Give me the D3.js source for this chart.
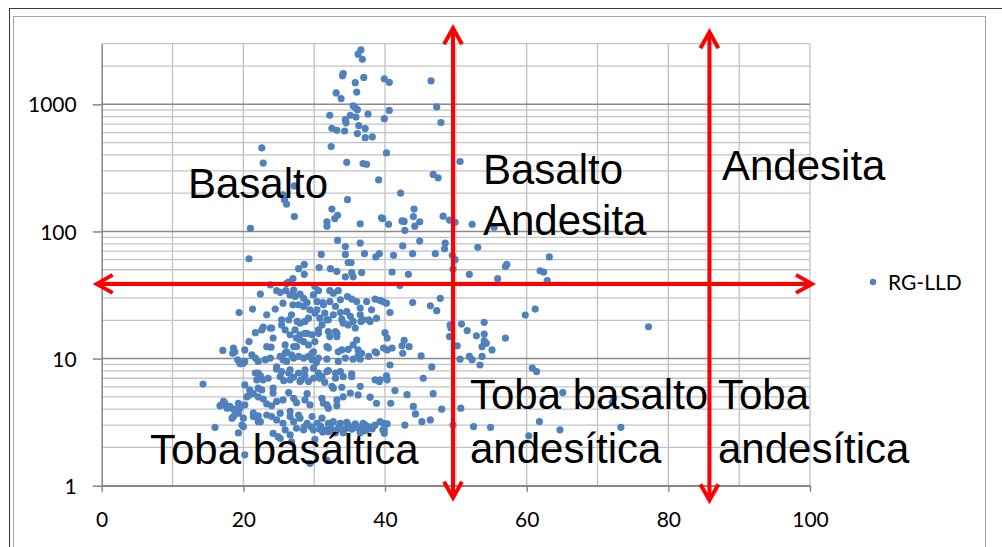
<!DOCTYPE html>
<html>
<head>
<meta charset="utf-8">
<script src="https://cdn.jsdelivr.net/npm/d3@7/dist/d3.min.js"></script>
<style>
  body { margin: 0; background: #fff; }
</style>
</head>
<body>
<script>
console.log("Cargando grafico RG-LLD");

// ---- Datos ----
const nombreSerie = "RG-LLD";

// puntos [x, y] de la serie RG-LLD
const puntosRG = [
  [36.6,2680],[36.2,2480],[36.8,2260],[34.1,1745],[34.0,1680],[35.8,1480],[37.0,1630],[39.9,1590],[40.6,1490],[46.5,1530],
  [33.1,1230],[33.8,1110],[36.0,1250],[35.5,975],[36.1,908],[35.8,940],[47.3,955],[40.6,895],[32.2,820],[35.1,820],
  [35.9,795],[37.6,840],[39.9,772],[34.4,758],[34.5,715],[47.9,720],[36.3,680],[32.5,648],[33.2,625],[34.3,617],
  [37.2,645],[36.1,590],[37.2,547],[38.2,555],[32.4,465],[22.6,455],[40.2,415],[22.8,345],[34.6,350],[36.9,342],
  [37.4,338],[50.6,355],[46.8,281],[47.5,264],[39.1,255],[27.2,228],[25.6,194],[25.8,178],[26.1,164],[42.2,200],
  [34.7,178],[32.5,150],[44.1,150],[27.2,131],[33.3,134],[32.9,126],[48.2,132],[44.0,131],[39.5,128],[39.7,126],
  [31.8,119],[31.8,110],[36.5,115],[40.5,114],[42.4,121],[42.7,120],[44.9,119],[44.2,110],[49.1,123],[49.9,118],
  [52.3,114],[21.0,106],[42.8,102],[55.4,108],[33.3,85],[36.5,81],[44.9,84],[48.5,81],[42.5,77],[48.4,73],
  [53.1,75],[34.4,76],[31.0,66],[34.4,66],[37.1,67],[38.7,63],[39.2,67],[41.2,65],[43.9,67],[47.1,67],
  [49.5,65],[49.9,60],[20.8,61],[34.8,57],[35.2,57],[28.6,55],[27.8,51],[30.7,52],[32.3,51],[33.2,48.5],
  [36.7,47.5],[35.3,47.5],[41.0,48],[43.3,46],[49.6,50.5],[51.9,46],[27.0,42.6],[28.6,46],[34.4,44],[35.5,44],
  [63.2,63],[57.2,55],[57.0,53],[61.9,49],[62.4,48],[62.9,41],[55.9,42.5],[61.2,24.5],[59.8,22],[57.0,14.5],
  [77.2,17.8],[60.8,8.4],[61.4,7.9],[65.1,5.4],[72.3,4.9],[72.1,4.5],[61.8,3.2],[64.7,2.75],[60.3,2.47],[73.3,2.88],
  [49.2,18.4],[49.3,17.4],[49.1,14.9],[50.8,18.7],[51.6,16.6],[50.2,12.6],[50.6,9.9],[51.9,10.4],[52.3,9.8],[52.9,15.1],
  [54.0,19.3],[54.0,15.6],[54.3,13.2],[54.0,13.8],[53.7,12.4],[55.1,11.7],[53.7,10.4],[53.4,8.9],[50.7,4.07],[52.5,2.92],
  [54.9,2.88],[49.6,3.0],
  [39.7,28.1],[40.2,27.3],[40.7,23],[43.9,27.6],[46.4,26],[47.3,23.8],[47.8,29.8],[40.0,16],[40.3,14.5],[39.8,12.1],
  [40.3,11.7],[41.0,12.1],[42.7,13.9],[42.4,12.6],[43.4,12.4],[42.5,11],[45.1,10.5],[40.7,8.9],[46.6,8.6],[40.2,7.3],
  [40.3,6.8],[39.3,6.8],[45.4,7.0],[41.4,5.6],[43.1,5.2],[46.8,5.3],[40.8,4.45],[44.0,4.2],[44.3,3.67],[48.0,4.0],
  [45.2,3.19],[46.4,3.29],[42.8,3.0],[39.8,3.1],[40.3,3.06],[39.9,2.75],
  [42.1,37.5],[23.8,38],[26.1,39],[24.7,34.2],[25.2,33.2],[26.0,34.2],[27.1,34.8],[27.3,30.8],[26.6,31.7],[22.4,32.2],
  [28.5,29.8],[29.9,31.7],[30.4,28.1],[31.2,27.6],[32.2,28.1],[32.7,32.7],[33.4,34.2],[34.7,30.8],[35.3,29.4],[37.4,28.1],
  [38.6,29.4],[39.3,28.7],[25.6,27.3],[27.0,26.5],[27.8,26.5],[28.5,25.7],[29.0,27.6],[29.4,24.2],[30.1,22.8],[30.8,20.8],
  [31.5,22.8],[32.0,20.2],[32.7,22.1],[33.7,23.0],[34.6,23.4],[35.1,21.5],[35.5,19.6],[36.5,22.1],[36.9,20.2],[37.9,19.6],
  [34.8,18.4],[35.8,17.4],[24.5,24.5],[26.8,22.1],[27.6,19.6],[28.7,19.6],[25.4,20.2],[25.4,18.4],[19.4,23.0],[21.3,24.5],
  [33.0,16.3],[34.1,19.0],[23.8,17.4],[22.8,17.7],[22.6,16.8],[21.7,16.0],[24.2,14.5],[23.3,12.4],[23.9,12.3],[20.8,13.6],
  [20.2,11.7],[18.6,12.1],[17.1,11.6],[18.8,11.3],[26.6,15.4],[27.5,14.5],[28.0,15.4],[28.5,13.6],[29.0,15.8],[29.7,15.4],
  [30.1,13.6],[30.6,16.8],[31.1,18.4],[32.0,12.1],[32.2,14.9],[33.2,14.9],[33.9,11.7],[34.8,11.8],[35.5,12.8],[36.2,11.7],
  [36.7,11.0],[33.4,11.3],[38.6,11.3],[26.1,11.3],[25.9,12.8],[27.1,12.4],[29.9,11.3],
  [19.5,9.2],[20.0,9.2],[21.2,10.7],[21.7,10.1],[22.1,9.5],[23.1,9.8],[23.8,10.1],[25.2,10.4],[25.6,9.8],[26.1,9.5],
  [27.1,10.1],[27.8,10.4],[28.5,10.1],[29.2,10.4],[29.7,9.8],[30.3,9.3],[30.6,10.1],[31.8,9.9],[33.4,9.5],[34.4,10.1],
  [35.5,9.9],[36.2,10.5],[36.5,9.9],[37.7,10.4],[38.8,11.1],
  [14.3,6.3],[20.2,6.2],[20.9,5.67],[21.7,7.7],[22.4,7.3],[21.9,6.8],[22.8,6.8],[23.5,7.0],[24.2,5.85],[24.7,8.25],
  [25.4,7.9],[25.7,6.7],[26.4,7.7],[27.1,7.15],[27.8,7.7],[28.2,6.8],[28.7,7.3],[29.2,6.6],[29.9,7.0],[30.6,7.7],
  [31.1,7.2],[31.5,6.5],[32.0,8.05],[33.0,7.0],[33.7,7.9],[34.1,7.2],[35.3,7.6],[32.7,5.85],[33.9,5.95],[38.6,6.8],
  [39.2,6.6],
  [16.9,4.32],[17.4,4.45],[18.1,4.2],[18.6,4.0],[19.3,4.45],[20.5,5.0],[21.4,5.3],[22.1,5.0],[22.8,4.8],[23.3,4.4],
  [24.0,4.25],[24.7,4.6],[25.6,4.73],[26.4,5.4],[27.1,4.87],[27.5,4.5],[29.0,5.3],[29.4,4.32],[31.1,4.87],[31.8,4.32],
  [33.2,4.25],[34.1,5.0],[35.1,5.35],[36.2,5.18],[37.9,4.97],[38.8,4.45],
  [16.0,2.88],[18.6,3.5],[19.3,3.72],[19.8,3.0],[21.4,3.5],[22.1,3.19],[23.3,3.6],[24.0,3.5],[25.2,3.72],[25.6,3.1],
  [26.6,3.5],[27.1,3.19],[28.0,3.4],[29.0,3.1],[29.7,3.5],[30.4,3.1],[31.1,3.4],[32.0,3.1],[32.7,3.19],[33.7,3.1],
  [34.8,3.0],[35.8,3.06],[36.9,3.1],[39.3,3.19],
  [19.3,2.6],[24.2,2.58],[24.9,2.43],[25.9,2.75],[26.6,2.51],[27.5,2.83],[29.9,2.75],[30.8,2.78],[32.0,2.66],[33.2,2.75],
  [34.1,2.61],[35.3,2.78],[36.5,2.61],[37.4,2.75],[39.7,2.75],[39.9,2.59],[20.2,1.75],[29.4,1.5],[31.8,1.59],[30.1,2.32],
  [30.6,34.2],[33.7,29.0],[36.0,28.1],[30.4,24.2],[31.3,26.5],[33.0,25.7],[36.5,25.0],[38.1,24.2],[23.3,22.1],[26.4,20.2],
  [28.0,19.0],[29.2,20.8],[31.8,20.2],[33.9,20.4],[36.6,19.6],[37.7,20.2],[38.8,20.8],[24.0,17.4],[25.9,16.8],[27.3,16.8],
  [28.7,15.8],[30.6,15.8],[32.0,16.3],[33.2,15.8],[36.0,14.0],[28.0,14.0],[29.2,12.8],[27.5,12.4],[31.8,12.4],[25.9,11.0],
  [26.8,10.7],[29.7,11.0],[24.7,8.6],[26.6,8.15],[28.7,8.15],[29.9,8.4],[31.8,7.9],[33.0,7.7],[25.2,7.2],[26.6,6.8],
  [28.0,6.6],[30.8,7.0],[32.5,6.05],[35.3,7.2],[36.5,6.05],[22.6,5.67],[24.2,5.35],[28.7,4.73],[31.3,4.45],[32.0,4.07],
  [33.2,4.73],[26.6,3.85],[27.8,3.6],[24.7,3.29],[28.5,2.75],[31.5,2.75],[36.5,2.75],[25.2,2.36],[26.8,2.21],[36.0,2.92],
  [37.2,3.0],[38.6,3.0],
  [18.5,11.0],[19.2,9.77],[19.6,9.1],[20.2,9.5],[22.1,7.7],[20.7,5.1],[22.1,5.85],[17.2,4.6],[16.7,4.25],[17.7,4.07],
  [18.8,3.95],[19.5,4.07],[20.2,4.32],[18.4,3.4],[20.0,3.4],[21.4,3.72],[22.1,3.55],[20.0,2.92],[22.4,3.19],
  [26.4,40],[30.1,37],[28.0,32.2],[32.2,34.2],
  [29.6,2.9],[30.9,2.95],[32.3,2.85],[33.5,2.9],[34.4,2.8],[35.0,2.9],[36.2,2.85],[37.8,2.9],[38.2,2.8],[31.2,2.65],
  [33.0,2.6],[28.6,2.9],[37.0,2.7],[34.6,3.15]
];

// ejes
const ticksX = [0, 20, 40, 60, 80, 100];
const rejillaX = [10, 20, 30, 40, 50, 60, 70, 80, 90, 100];
const ticksY = [1, 10, 100, 1000];
const maxY = 3000;

// limites de las zonas (flechas rojas)
const limitesX = [49.6, 85.8];
const limiteY = 38.7;

// textos de las zonas
const textosZonas = ["Basalto", "Basalto", "Andesita", "Andesita",
                     "Toba basáltica", "Toba basalto", "andesítica", "Toba", "andesítica"];

// ---- Configuracion ----
const width = 1002;
const height = 547;
const plot = { left: 101.7, right: 810, top: 43.7, bottom: 485.7 };

// posiciones (px) de los textos de zona, en el mismo orden
const posTextos = [[188, 198], [483, 184], [483, 235], [722, 180],
                   [150, 464], [470, 409], [470, 463], [718, 409], [718, 463]];

const svg = d3.select("body")
  .append("svg")
  .attr("width", width)
  .attr("height", height)
  .style("display", "block");

svg.append("rect").attr("width", width).attr("height", height).attr("fill", "#fff");

// marcos del area del grafico
svg.append("rect")
  .attr("x", 9.5).attr("y", 8.5).attr("width", 1000).attr("height", 600)
  .attr("fill", "none").attr("stroke", "#3a3a3a");
svg.append("rect")
  .attr("x", 13.5).attr("y", 16.5).attr("width", 972).attr("height", 600)
  .attr("fill", "none").attr("stroke", "#a6a6a6");

// escalas
const xScale = d3.scaleLinear().domain([0, 100]).range([plot.left, plot.right]);
const yScale = d3.scaleLog().domain([1, maxY]).range([plot.bottom, plot.top]);

// lineas secundarias en Y (2..9 de cada decada)
const menoresY = [];
ticksY.forEach(function (d) {
  for (let k = 2; k <= 9; k++) {
    if (d * k <= maxY) menoresY.push(d * k);
  }
});

const rejilla = svg.append("g");
rejilla.selectAll(".vx").data(rejillaX).enter().append("line")
  .attr("x1", d => xScale(d)).attr("x2", d => xScale(d))
  .attr("y1", plot.top).attr("y2", plot.bottom)
  .attr("stroke", "#c0c0c0").attr("stroke-width", 1.3);
rejilla.selectAll(".hm").data(menoresY).enter().append("line")
  .attr("x1", plot.left).attr("x2", plot.right)
  .attr("y1", d => yScale(d)).attr("y2", d => yScale(d))
  .attr("stroke", "#c4c4c4").attr("stroke-width", 1.3);
rejilla.selectAll(".hM").data(ticksY).enter().append("line")
  .attr("x1", plot.left).attr("x2", plot.right)
  .attr("y1", d => yScale(d)).attr("y2", d => yScale(d))
  .attr("stroke", "#8a8a8a").attr("stroke-width", 1.5);

// ejes
const ejeY = d3.axisLeft(yScale)
  .tickValues(ticksY)
  .tickFormat(d3.format("d"))
  .tickSizeInner(9).tickSizeOuter(0).tickPadding(16);
const gY = svg.append("g")
  .attr("transform", "translate(" + plot.left + ",0)")
  .call(ejeY);

const ejeX = d3.axisBottom(xScale)
  .tickValues(ticksX)
  .tickSizeInner(6).tickSizeOuter(0).tickPadding(20);
const gX = svg.append("g")
  .attr("transform", "translate(0," + plot.bottom + ")")
  .call(ejeX);

[gX, gY].forEach(function (g) {
  g.select(".domain").attr("stroke", "#868686").attr("stroke-width", 1.5);
  g.selectAll(".tick line").attr("stroke", "#868686").attr("stroke-width", 1.5);
  g.selectAll("text")
    .attr("fill", "#000")
    .style("font-family", "Lato, 'Open Sans', sans-serif")
    .style("font-size", "21px");
});
gY.selectAll("text").attr("dy", "0.36em");

// puntos
svg.append("g")
  .selectAll("circle")
  .data(puntosRG)
  .enter()
  .append("circle")
  .attr("cx", d => xScale(d[0]))
  .attr("cy", d => yScale(d[1]))
  .attr("r", 3.6)
  .attr("fill", "#4f81bd");

// leyenda
svg.append("circle").attr("cx", 873).attr("cy", 282).attr("r", 3.2).attr("fill", "#4f81bd");
svg.append("text")
  .attr("x", 888).attr("y", 290)
  .style("font-family", "Lato, 'Open Sans', sans-serif")
  .style("font-size", "21px")
  .attr("fill", "#000")
  .text(nombreSerie);

// textos de las zonas
svg.append("g")
  .selectAll("text")
  .data(textosZonas)
  .enter()
  .append("text")
  .attr("x", (d, i) => posTextos[i][0])
  .attr("y", (d, i) => posTextos[i][1])
  .style("font-family", "'Liberation Sans', Arial, sans-serif")
  .style("font-size", "42px")
  .attr("fill", "#000")
  .text(d => d);

// flechas rojas
const rojo = "#ff0000";
const flechas = svg.append("g")
  .attr("stroke", rojo).attr("stroke-width", 4).attr("fill", "none")
  .attr("stroke-linejoin", "miter");

function punta(x, y, dx, dy) {
  // punta abierta: (dx,dy) es la direccion hacia donde apunta
  const largo = 16, ancho = 9;
  const px = -dy, py = dx;
  return "M" + (x - dx * largo + px * ancho) + "," + (y - dy * largo + py * ancho) +
         "L" + x + "," + y +
         "L" + (x - dx * largo - px * ancho) + "," + (y - dy * largo - py * ancho);
}

// flecha horizontal
const yH = yScale(limiteY);
const xIzq = xScale(0) - 5, xDer = xScale(100) + 2;
flechas.append("line").attr("x1", xIzq + 2).attr("x2", xDer - 2).attr("y1", yH).attr("y2", yH);
flechas.append("path").attr("d", punta(xIzq, yH, -1, 0));
flechas.append("path").attr("d", punta(xDer, yH, 1, 0));

// flechas verticales
const extremos = [[plot.top - 15.5, plot.bottom + 12], [plot.top - 11.5, plot.bottom + 14.5]];
limitesX.forEach(function (v, i) {
  const x = xScale(v);
  const y0 = extremos[i][0], y1 = extremos[i][1];
  flechas.append("line").attr("x1", x).attr("x2", x).attr("y1", y0 + 2).attr("y2", y1 - 2);
  flechas.append("path").attr("d", punta(x, y0, 0, -1));
  flechas.append("path").attr("d", punta(x, y1, 0, 1));
});
</script>
</body>
</html>
